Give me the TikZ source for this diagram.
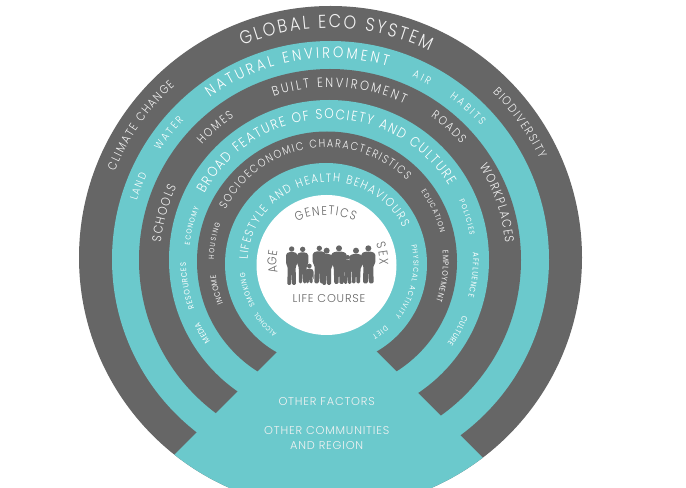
\documentclass[tikz,border=0pt]{standalone}
\usepackage{fontspec}
\setmainfont[FakeStretch=0.86]{Poppins Light}
\newfontfamily\spfont[LetterSpace=7]{Poppins Light}
\newfontfamily\tinyfont[FakeStretch=0.88]{Poppins}
\usetikzlibrary{decorations.text}
\definecolor{ringteal}{HTML}{6BC9CC}
\definecolor{ringdark}{HTML}{666666}
\definecolor{softwhite}{HTML}{F2F2F2}
\newcommand\arctxt[8]{%
  \path[decorate,decoration={text along path,text align={fit to path},
    text={|\fontsize{#6}{#6}\selectfont\color{#7}|#8}}]
    (#1,-#2) ++(#4:#3) arc[start angle=#4,end angle=#5,radius=#3];}
\newcommand\arcsmall[8]{%
  \path[decorate,decoration={text along path,text align={fit to path},
    text={|\tinyfont\fontsize{#6}{#6}\selectfont\color{#7}|#8}}]
    (#1,-#2) ++(#4:#3) arc[start angle=#4,end angle=#5,radius=#3];}
\newcommand\ringdisc[4]{\fill[#4] (#1,-#2) circle[radius=#3];}
% x, head y, head r, shoulder half width, foot half width, bottom
\newcommand\personfig[6]{%
  \fill[ringdark] (#1,-#2) circle[radius=#3];
  \pgfmathsetmacro\ptop{#2+#3+1}\pgfmathsetmacro\phip{\ptop+(#6-\ptop)*0.45}
  \fill[ringdark,rounded corners=1pt] (#1-#4*0.5,-\ptop) -- (#1-#4,-\ptop-6) -- (#1-#4,-\ptop-35)
    -- (#1-#4*0.7,-\phip) -- (#1-#5,-#6) -- (#1-1.5,-#6) -- (#1,-\phip-10) -- (#1+1.5,-#6)
    -- (#1+#5,-#6) -- (#1+#4*0.7,-\phip) -- (#1+#4,-\ptop-35) -- (#1+#4,-\ptop-6)
    -- (#1+#4*0.5,-\ptop) -- cycle;}
\begin{document}
\begin{tikzpicture}[x=0.75pt,y=0.75pt]
\useasboundingbox (0,-488) rectangle (686,0);
\clip (0,-488) rectangle (686,0);
\fill[white] (0,-488) rectangle (686,0);
% rings
\ringdisc{330.5}{257.5}{251.5}{ringdark}
\ringdisc{330.5}{259.5}{218.5}{ringteal}
\ringdisc{330}{260}{191}{ringdark}
\ringdisc{329}{260}{160}{ringteal}
\ringdisc{327}{261.5}{130}{ringdark}
\ringdisc{326}{264}{101}{ringteal}
% wedge
\begin{scope}
\clip (330.5,-257.5) circle[radius=251.5];
\fill[ringteal] (327,-302) -- (627,-602) -- (27,-602) -- cycle;
\end{scope}
\ringdisc{326.5}{265}{70}{white}
% people
\begin{scope}[shift={(280,-240)},x=0.25pt,y=0.25pt]
\personfig{35}{27}{8}{17}{13}{135}
\personfig{68}{28}{8}{17}{11}{130}
\personfig{88}{78}{7}{13}{10}{130}
\personfig{118}{25}{8}{20}{15}{130}
\personfig{140}{32}{9}{19}{13}{135}
\personfig{177}{25}{9}{23}{14}{132}
\personfig{203}{52}{7}{14}{11}{132}
\personfig{228}{32}{9}{20}{12}{130}
\personfig{265}{25}{9}{21}{16}{130}
\end{scope}
% outer dark ring
\arctxt{330}{258}{230}{112.4}{64.4}{14}{softwhite}{GLOBAL ECO SYSTEM}
\arctxt{330}{258}{232}{158}{132}{9}{softwhite}{CLIMATE CHANGE}
\arctxt{330}{258}{232}{45.5}{25.4}{9}{softwhite}{BIODIVERSITY}
% teal ring 2
\arctxt{330}{260}{202}{126.5}{73.4}{11.5}{white}{NATURAL ENVIROMENT}
\arctxt{330}{260}{202}{163}{155}{8}{white}{LAND}
\arctxt{330}{260}{202}{147.3}{136.4}{8}{white}{WATER}
\arctxt{330}{260}{201}{65.9}{60.6}{8}{white}{AIR}
\arctxt{330}{260}{202}{53.7}{41.6}{8}{white}{HABITS}
% dark ring 3
\arctxt{330}{260}{173}{109}{64.5}{10}{softwhite}{BUILT ENVIROMENT}
\arctxt{330}{260}{170}{174}{154.5}{9.5}{softwhite}{SCHOOLS}
\arctxt{330}{260}{172}{138}{123.9}{9}{softwhite}{HOMES}
\arctxt{330}{260}{175}{54.8}{41.5}{9}{softwhite}{ROADS}
\arctxt{330}{260}{176}{32}{5.5}{9.5}{softwhite}{WORKPLACES}
% teal ring 4
\arctxt{329}{260}{141}{152}{31.7}{10.5}{white}{BROAD FEATURE OF SOCIETY AND CULTURE}
\arcsmall{329}{260}{140}{174}{158}{5.5}{white}{ECONOMY}
\arcsmall{329}{260}{143}{199.7}{181}{6}{white}{RESOURCES}
\arcsmall{329}{260}{144}{214.3}{205.7}{6}{white}{MEDIA}
\arcsmall{329}{260}{143}{24.6}{9.9}{5.5}{white}{POLICIES}
\arcsmall{329}{260}{144}{2.8}{-14.7}{6}{white}{AFFLUENCE}
\arcsmall{329}{260}{145}{-22.5}{-35.3}{6}{white}{CULTURE}
% dark ring 5
\arctxt{327}{261.5}{114}{152.8}{45.5}{8.5}{softwhite}{SOCIOECONOMIC CHARACTERISTICS}
\arcsmall{327}{261.5}{113}{179}{160.4}{5.5}{softwhite}{HOUSING}
\arcsmall{327}{261.5}{112}{202}{187}{6}{softwhite}{INCOME}
\arcsmall{327}{261.5}{117}{36.5}{14.4}{5.5}{softwhite}{EDUCATION}
\arcsmall{327}{261.5}{116}{5.2}{-19.9}{6}{softwhite}{EMPLOYMENT}
% teal ring 6
\arctxt{329.5}{264}{82}{177}{26.4}{9}{white}{LIFESTYLE AND HEALTH BEHAVIOURS}
\arcsmall{329.5}{264}{87}{232.7}{214}{5}{white}{ALCOHOL}
\arcsmall{329.5}{264}{85}{209}{186}{5.5}{white}{SMOKING}
\arcsmall{329.5}{264}{84}{13}{-38.6}{5.5}{white}{PHYSICAL ACTIVITY}
\arcsmall{329.5}{264}{83}{-47.7}{-59}{5.5}{white}{DIET}
% centre
\arctxt{326}{288}{73}{113.7}{66.9}{9.5}{ringdark}{GENETICS}
\arctxt{326.5}{262}{50}{192.5}{167.5}{9.5}{ringdark}{AGE}
\arctxt{326.5}{262}{53}{20.6}{-3.2}{9.5}{ringdark}{SEX}
\node[text=ringdark,font=\spfont\fontsize{8.5}{8.5}\selectfont,inner sep=0pt] (lifecourse) at (329,-298.5) {LIFE COURSE};
% wedge text
\node[text=softwhite,font=\spfont\fontsize{8.5}{8.5}\selectfont,inner sep=0pt] (otherfactors) at (326.7,-401.7) {OTHER FACTORS};
\node[text=softwhite,font=\spfont\fontsize{8.5}{8.5}\selectfont,inner sep=0pt] (othercomm) at (326.7,-431) {OTHER COMMUNITIES};
\node[text=softwhite,font=\spfont\fontsize{8.5}{8.5}\selectfont,inner sep=0pt] (andregion) at (326.7,-445.5) {AND REGION};
\end{tikzpicture}
\end{document}
